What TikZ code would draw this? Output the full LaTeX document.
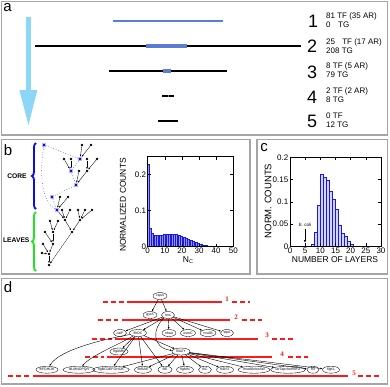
\documentclass[tikz,border=0pt]{standalone}
\usepackage{fontspec}
\setmainfont{Liberation Sans}
\newfontfamily\serifred{Liberation Serif}
\usetikzlibrary{arrows.meta,shapes.geometric,decorations.pathreplacing}
\definecolor{framegray}{RGB}{165,165,165}
\definecolor{arrowblue}{RGB}{140,214,247}
\definecolor{lvlblue}{RGB}{90,125,210}
\definecolor{histblue}{RGB}{25,25,230}
\definecolor{lav}{RGB}{212,212,246}
\definecolor{braceblue}{RGB}{10,10,240}
\definecolor{bracegreen}{RGB}{30,230,30}
\definecolor{redline}{RGB}{255,25,25}
\begin{document}
\begin{tikzpicture}[x=1pt,y=-1pt,
  panel/.style={draw=framegray,line width=1.1pt},
  tag/.style={inner sep=0,font=\fontsize{15}{15}\selectfont},
  lvlnum/.style={inner sep=0,font=\fontsize{18}{18}\selectfont},
  lvltxt/.style={inner sep=0,anchor=west,align=left,font=\fontsize{8}{9}\selectfont},
  tick/.style={inner sep=0,font=\fontsize{8}{8}\selectfont},
  axlabel/.style={inner sep=0,font=\fontsize{8.5}{8.5}\selectfont},
  dot/.style={circle,fill=black,inner sep=0,minimum size=2.6pt},
  core/.style={rectangle,fill=braceblue,inner sep=0,minimum size=3.2pt,draw=braceblue!30,line width=0.7pt},
  tedge/.style={-{Latex[length=2pt,width=1.6pt]},line width=0.35pt,shorten >=0.3pt},
  cedge/.style={dotted,draw=braceblue!75,line width=0.6pt},
  bracetxt/.style={inner sep=0,font=\bfseries\fontsize{6.7}{6.7}\selectfont},
  hbarb/.style={draw=histblue,fill=histblue!45,line width=0.5pt},
  hbarc/.style={draw=histblue,fill=lav,line width=0.7pt},
  gnode/.style={ellipse,draw,line width=0.35pt,inner sep=0,minimum height=7pt,font=\fontsize{3.5}{3.5}\selectfont},
  gedge/.style={-{Latex[length=2.2pt,width=1.8pt]},line width=0.4pt},
  redsolid/.style={draw=redline,line width=1.6pt},
  reddash/.style={draw=redline,line width=1.6pt,dash pattern=on 5pt off 3pt},
  redlab/.style={text=redline,inner sep=0,font=\serifred\bfseries\fontsize{7}{7}\selectfont}]
\useasboundingbox (0,0) rectangle (390,386);
% ---------- panel frames
\draw[panel] (1.5,1.5) rectangle (387.5,135);
\draw[panel] (1.5,139.5) rectangle (250,274);
\draw[panel] (257,139.5) rectangle (387.5,274);
\draw[panel] (1.5,278.5) rectangle (387.5,384);
\node[tag] (ta) at (7.5,8) {a};
\node[tag] (tb) at (8,150.5) {b};
\node[tag] (tc) at (264,147.5) {c};
\node[tag] (td) at (8,287) {d};
% ---------- panel a
\fill[arrowblue] (26,17) rectangle (31,90);
\fill[arrowblue] (19.3,90) -- (37.3,90) -- (28.5,125) -- cycle;
\draw[lvlblue,line width=2.7pt] (113,21) -- (223,21);
\draw[line width=1.2pt] (35,46) -- (301,46);
\draw[lvlblue,line width=3.3pt] (146,46) -- (187,46);
\draw[line width=1.2pt] (109,71) -- (227,71);
\draw[lvlblue,line width=3.3pt] (163,71) -- (171,71);
\draw[line width=1.2pt] (162,96) -- (174,96);
\draw[lvlblue,line width=1.2pt] (167.5,96) -- (169,96);
\draw[line width=1.2pt] (158,121) -- (178,121);
\node[lvlnum] (l1) at (313,21) {1};
\node[lvlnum] (l2) at (312,46) {2};
\node[lvlnum] (l3) at (312,72) {3};
\node[lvlnum] (l4) at (312,97) {4};
\node[lvlnum] (l5) at (312,121) {5};
\node[lvltxt] (t1) at (326,20.5) {81 TF (35 AR)\\0\hspace{0.95em}TG};
\node[lvltxt] (t2) at (326,46) {25\hspace{0.9em}TF (17 AR)\\208 TG};
\node[lvltxt] (t3) at (326,70.5) {8 TF (5 AR)\\79 TG};
\node[lvltxt] (t4) at (326,95) {2 TF (2 AR)\\8 TG};
\node[lvltxt] (t5) at (326,120.5) {0 TF\\12 TG};
% ---------- panel b: braces
\draw[braceblue,line width=1.8pt,decorate,decoration={brace,amplitude=4pt}] (36,209) -- (36,143);
\draw[bracegreen,line width=1.8pt,decorate,decoration={brace,amplitude=4pt}] (36,271) -- (36,212);
\node[bracetxt] (core) at (17,176) {CORE};
\node[bracetxt] (leaves) at (16.3,240) {LEAVES};
% ---------- panel b: tree
\node[dot] (k1) at (82,145) {};
\node[dot] (k2) at (91,145) {};
\node[dot] (k3) at (64,159) {};
\node[dot] (k4) at (71,159) {};
\node[dot] (k6a) at (87,159) {};
\node[dot] (k6b) at (97,159) {};
\node[dot] (k5) at (79,171) {};
\node[dot] (k6) at (87,171) {};
\node[dot] (k7) at (60,197) {};
\node[dot] (k8) at (68,197) {};
\node[dot] (l1n) at (62,210) {};
\node[dot] (l2n) at (70,210) {};
\node[dot] (l3n) at (78,210) {};
\node[dot] (l4n) at (85,210) {};
\node[dot] (l5n) at (92,210) {};
\node[dot] (m1) at (50,221) {};
\node[dot] (m2) at (58,221) {};
\node[dot] (m3) at (65,220) {};
\node[dot] (m4) at (80,220) {};
\node[dot] (n) at (72,232) {};
\node[dot] (p0) at (45,232) {};
\node[dot] (p1) at (53,232) {};
\node[dot] (p2) at (53,244) {};
\node[dot] (r0) at (43,244) {};
\node[dot] (A) at (49,254) {};
\node[dot] (a0) at (42,253) {};
\node[dot] (R) at (49,265) {};
\node[core] (B1) at (44,145) {};
\node[core] (B2) at (80,159) {};
\node[core] (B3) at (71,171) {};
\node[core] (B4) at (76,185) {};
\node[core] (B5) at (52,197) {};
\node[core] (B6) at (57,210) {};
\draw[cedge] (B1) -- (B2);
\draw[cedge] (B1) .. controls (40,170) and (40,200) .. (B6);
\draw[cedge] (B2) -- (B3);
\draw[cedge] (B3) -- (B4);
\draw[cedge] (B4) -- (B5);
\draw[cedge] (B5) -- (B6);
\foreach \a/\b in {k1/B2,k2/B2,k3/B3,k4/B3,k6a/k6,k6b/k6,k6/B4,k5/B4,k7/B6,k8/B6,
  l1n/m3,l2n/m3,B6/m3,l3n/m4,l4n/m4,l5n/m4,m3/n,m4/n,m1/p1,m2/p1,p0/p2,p1/p2,r0/A,p2/A,a0/A,A/R}
  \draw[tedge] (\a) -- (\b);
\draw[tedge,line width=0.25pt] (n) -- (R);
% ---------- panel b: histogram
\begin{scope}[shift={(147.7,246.7)},x=1.712pt,y=360pt]
\foreach \i/\v in {0/0.23,1/0.052,2/0.036,3/0.032,4/0.031,5/0.031,6/0.032,7/0.033,8/0.033,9/0.034,
  10/0.034,11/0.035,12/0.035,13/0.035,14/0.035,15/0.034,16/0.034,17/0.033,18/0.031,19/0.029,
  20/0.027,21/0.025,22/0.023,23/0.021,24/0.019,25/0.017,26/0.015,27/0.013,28/0.011,29/0.009,
  30/0.008,31/0.006,32/0.005,33/0.004,34/0.003,35/0.002,36/0.0015,37/0.001,38/0.0005}
  \draw[hbarb] (\i,0) rectangle ++(1,\v);
\draw[line width=0.5pt] (0,0) rectangle (50,0.25);
\foreach \t in {0,10,20,30,40,50} {
  \draw[line width=0.5pt] (\t,0) -- ++(0,3pt);
  \draw[line width=0.5pt] (\t,0.25) -- ++(0,-3pt);
  \node[tick,anchor=north,yshift=-1.5pt] at (\t,0) {\t};}
\foreach \t in {0.1,0.2} {
  \draw[line width=0.5pt] (0,\t) -- ++(3pt,0);
  \draw[line width=0.5pt] (50,\t) -- ++(-3pt,0);
  \node[tick,anchor=east,xshift=-1.5pt] at (0,\t) {\t};}
\node[tick,anchor=east,xshift=-1.5pt] at (0,0) {0};
\end{scope}
\node[axlabel,rotate=90] (ylb) at (123,205) {NORMALIZED COUNTS};
\node[axlabel] (xlb) at (188,260) {N\raisebox{-1.6pt}{\fontsize{5.5}{5.5}\selectfont C}};
% ---------- panel c: histogram
\begin{scope}[shift={(290,246.3)},x=3.033pt,y=445pt]
\foreach \i/\v in {7/0.004,8/0.031,9/0.093,10/0.161,11/0.155,12/0.148,13/0.124,14/0.105,
  15/0.082,16/0.048,17/0.030,18/0.022,19/0.011,20/0.004}
  \draw[hbarc] (\i,0) rectangle ++(1,\v);
\draw[line width=0.5pt] (0,0) rectangle (30,0.2);
\foreach \t in {0,5,10,15,20,25,30} {
  \draw[line width=0.5pt] (\t,0) -- ++(0,3pt);
  \draw[line width=0.5pt] (\t,0.2) -- ++(0,-3pt);
  \node[tick,anchor=north,yshift=-1.5pt] at (\t,0) {\t};}
\foreach \t in {0.05,0.1,0.15,0.2} {
  \draw[line width=0.5pt] (0,\t) -- ++(3pt,0);
  \draw[line width=0.5pt] (30,\t) -- ++(-3pt,0);
  \node[tick,anchor=east,xshift=-1.5pt] at (0,\t) {\t};}
\node[tick,anchor=east,xshift=-1.5pt] at (0,0) {0};
\end{scope}
\node[inner sep=0,font=\fontsize{9.5}{9.5}\selectfont,rotate=90] (ylc) at (268,201) {NORM. COUNTS};
\node[axlabel] (xlc) at (335,259.7) {NUMBER OF LAYERS};
\node[inner sep=0,font=\fontsize{4.5}{4.5}\selectfont] (ecoli) at (305,225) {E. coli};
\coordinate (ectip) at (305,243);
\draw[-{Latex[length=3pt,width=2.4pt]},line width=0.6pt] (ecoli.south) ++(0,-2.5pt) -- (ectip);
% ---------- panel d: red level lines
\draw[reddash] (103,302) -- (125,302);
\draw[redsolid] (127,302) -- (222,302);
\draw[reddash] (232,302) -- (250,302);
\node[redlab] (r1) at (227,299) {1};
\draw[reddash] (98,320) -- (118,320);
\draw[redsolid] (122,320) -- (230,320);
\draw[reddash] (242,320) -- (262,320);
\node[redlab] (r2) at (236,317) {2};
\draw[reddash] (92,339) -- (112,339);
\draw[redsolid] (115,339) -- (258,339);
\draw[reddash] (272,339) -- (293,339);
\node[redlab] (r3) at (267,335) {3};
\draw[reddash] (85,357) -- (104,357);
\draw[redsolid] (107,357) -- (272,357);
\draw[reddash] (288,357) -- (308,357);
\node[redlab] (r4) at (282,354) {4};
\draw[reddash] (8,376) -- (30,376);
\draw[redsolid] (33,376) -- (348,376);
\draw[reddash] (358,376) -- (380,376);
\node[redlab] (r5) at (354,373) {5};
% ---------- panel d: gene nodes
\node[gnode,minimum width=14pt] (cspA) at (160,296) {cspA};
\node[gnode,minimum width=14pt] (gyrA) at (150,315) {gyrA};
\node[gnode,minimum width=13pt] (hns) at (168,315) {hns};
\node[gnode,minimum width=13pt] (caiF) at (120,333) {caiF};
\node[gnode,minimum width=17pt] (flhDC) at (138,333) {flhDC};
\node[gnode,minimum width=14pt] (nhaA) at (169,333) {nhaA};
\node[gnode,minimum width=15pt] (osmC) at (188,333) {osmC};
\node[gnode,minimum width=16pt] (rcsAB) at (208,333) {rcsAB};
\node[gnode,minimum width=13pt] (stpA) at (227,333) {stpA};
\node[gnode,minimum width=18pt] (flgAMN) at (119,351.5) {flgAMN};
\node[gnode,minimum width=18pt] (fliAZY) at (181,351.5) {fliAZY};
\node[gnode,minimum width=22pt] (g1) at (47,369.7) {fliFGHIJK};
\node[gnode,minimum width=32pt] (g2) at (79,369.7) {fliLMNOPQR};
\node[gnode,minimum width=28pt] (g3) at (111,369.7) {flgBCDEFGHIJK};
\node[gnode,minimum width=17pt] (g4) at (143,369.7) {flhBAE};
\node[gnode,minimum width=14pt] (g5) at (165,369.7) {fliE};
\node[gnode,minimum width=17pt] (g6) at (185,369.7) {flgMN};
\node[gnode,minimum width=13pt] (g7) at (205,369.7) {fliC};
\node[gnode,minimum width=17pt] (g8) at (225,369.7) {fliDST};
\node[gnode,minimum width=32pt] (g9) at (254,369.7) {motABcheAW};
\node[gnode,minimum width=33pt] (g10) at (288,369.7) {tarTapcheRBYZ};
\node[gnode,minimum width=12pt] (g11) at (313,369.7) {tsr};
\node[gnode,minimum width=17pt] (g12) at (331,369.7) {flgKL};
\foreach \a/\b in {cspA/gyrA,cspA/hns,hns/caiF,hns/flhDC,hns/nhaA,hns/osmC,hns/rcsAB,hns/stpA,
  flhDC/flgAMN,flhDC/fliAZY,flhDC/g3,flhDC/g4,flhDC/g5,
  fliAZY/g3,fliAZY/g4,fliAZY/g5,fliAZY/g6,fliAZY/g7,fliAZY/g8,fliAZY/g9,fliAZY/g10,fliAZY/g11,fliAZY/g12}
  \draw[gedge] (\a) -- (\b);
\draw[gedge] (flhDC) .. controls (100,340) and (60,350) .. (g1);
\draw[gedge] (flhDC) .. controls (118,345) and (92,355) .. (g2);
\draw[gedge] (hns) .. controls (152,328) and (152,348) .. (fliAZY);
\end{tikzpicture}
\end{document}
